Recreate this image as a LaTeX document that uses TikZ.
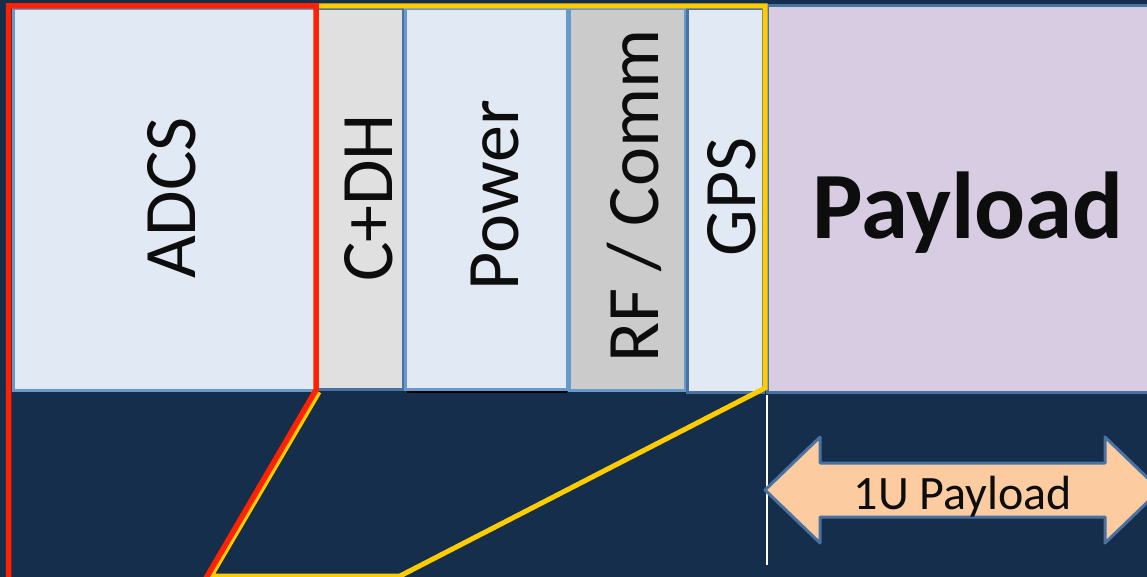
\documentclass[tikz,border=0pt]{standalone}
\usepackage{fontspec}
\setmainfont{Carlito}
\definecolor{bg}{HTML}{142E4C}
\definecolor{lightfill}{HTML}{E1E9F4}
\definecolor{greyfill}{HTML}{E0E0E0}
\definecolor{rffill}{HTML}{CBCBCB}
\definecolor{payfill}{HTML}{D7CCE1}
\definecolor{lightedge}{HTML}{6699CC}
\definecolor{darkedge}{HTML}{4A72A0}
\definecolor{redline}{HTML}{FF2200}
\definecolor{yelline}{HTML}{FFCC00}
\definecolor{arrfill}{HTML}{FCCB9F}
\tikzset{
  modbox/.style={draw, line width=3pt, inner sep=0pt},
  vlabel/.style={rotate=90, anchor=base, inner sep=0pt, text=black!95,
    font=\fontsize{74}{80}\selectfont},
}
\begin{document}
\begin{tikzpicture}[x=1pt,y=-1pt]
\useasboundingbox (0,0) rectangle (1147,577);
\clip (0,0) rectangle (1147,577);
\fill[bg] (0,0) rectangle (1147,577);
% boxes
\draw[modbox, fill=lightfill, draw=lightedge] (13,9) rectangle (316,390);
\draw[modbox, fill=greyfill, draw=darkedge] (316,9) rectangle (403,389);
\draw[modbox, fill=lightfill, draw=lightedge] (405,9) rectangle (567,389);
\draw[black, line width=1.5pt] (407,392) -- (567,392);
\draw[modbox, fill=rffill, draw=lightedge] (569,9) rectangle (685,390);
\draw[modbox, fill=lightfill, draw=darkedge] (687,9) rectangle (763,392);
\draw[modbox, fill=payfill, draw=darkedge] (767,6) rectangle (1170,392);
% labels
\node[vlabel] (adcs) at (195,198) {ADCS};
\node[vlabel] (cdh) at (392,198) {C+DH};
\node[vlabel] (power) at (518,195) {Power};
\node[vlabel] (rf) at (658,196) {RF / Comm};
\node[vlabel] (gps) at (755,197) {GPS};
\node[anchor=base, inner sep=0pt, text=black!95, font=\fontsize{95}{100}\selectfont\bfseries] (payload) at (968,238) {Payload};
% outlines
\draw[yelline, line width=5pt, line join=miter] (319,6) -- (765,6) -- (765,388) -- (400,576) -- (211,576) -- (319,392);
\draw[redline, line width=5.5pt, line join=miter] (8.5,590) -- (8.5,6) -- (316,6) -- (316,390) -- (205,580);
% white divider
\coordinate (wtop) at (766.5,395);
\coordinate (wbot) at (766.5,565);
\draw[white, line width=2pt] (wtop) -- (wbot);
% double arrow
\draw[darkedge, fill=arrfill, line width=3pt, line join=round]
  (765,490) -- (820,437) -- (820,463) -- (1105,463) -- (1105,437) -- (1160,490)
  -- (1105,543) -- (1105,517) -- (820,517) -- (820,543) -- cycle;
\node[anchor=base, inner sep=0pt, text=black!95, font=\fontsize{48}{52}\selectfont] (oneu) at (963,509) {1U Payload};
\end{tikzpicture}
\end{document}
